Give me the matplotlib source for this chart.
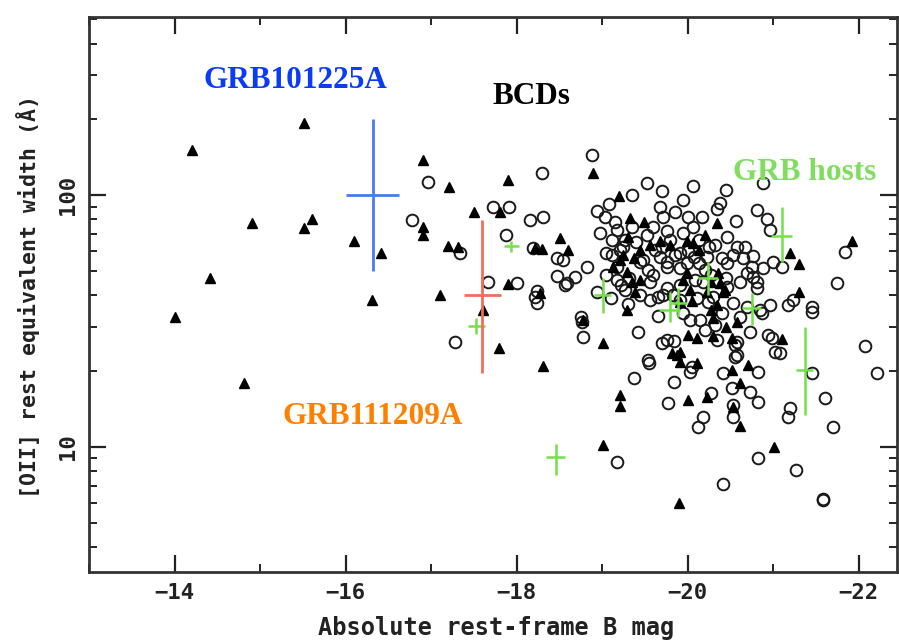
import numpy as np
import matplotlib
matplotlib.use("Agg")
import matplotlib.pyplot as plt
from matplotlib.ticker import FixedLocator, NullFormatter

# Comparison sample (open circles): absolute B mag, [OII] EW (A)
circ_mag = [-16.97, -16.78, -17.34, -17.28, -17.73, -17.91, -17.88, -18.30, -18.16, -18.31,
            -18.19, -18.47, -18.47, -17.67, -18.01, -18.24, -18.24, -18.88, -19.53, -19.70,
            -20.06, -20.45, -20.88, -19.95, -19.35, -19.08, -18.94, -19.04, -19.68, -19.71,
            -19.85, -20.00, -20.17, -20.34, -20.38, -20.57, -20.81, -20.93, -20.96, -18.98,
            -19.18, -19.53, -19.60, -19.76, -19.95, -20.06, -20.46, -20.67, -20.76, -20.75,
            -20.81, -19.05, -19.21, -18.54, -18.59, -18.68, -18.82, -19.18, -19.54, -19.68,
            -19.76, -19.91, -19.99, -20.23, -20.46, -20.53, -20.69, -20.88, -18.94, -19.18,
            -19.56, -19.65, -19.76, -19.91, -20.03, -20.30, -20.53, -20.61, -20.87, -18.77,
            -19.42, -19.71, -20.11, -20.24, -21.00, -21.11, -21.84, -21.75, -20.85, -21.17,
            -21.23, -21.46, -21.46, -18.78, -19.70, -19.84, -19.55, -19.37, -19.84, -19.77,
            -20.05, -20.03, -20.18, -20.12, -20.28, -20.55, -20.55, -20.41, -20.52, -20.53,
            -20.53, -20.73, -20.82, -20.82, -20.94, -20.99, -21.08, -21.20, -21.17, -21.46,
            -21.61, -21.70, -22.07, -22.22, -19.18, -20.83, -21.27, -20.41, -21.58, -21.59,
            -18.22, -19.56, -20.65, -20.58, -18.75, -19.27, -19.44, -19.12, -19.62, -19.80,
            -20.14, -20.32, -20.09, -20.20, -19.91, -19.44, -19.27, -19.12, -19.76, -19.91,
            -20.14, -19.83, -20.46, -20.61, -20.76, -20.81, -20.96, -20.32, -20.69, -19.76,
            -20.34, -20.58, -20.73, -21.02, -20.58, -18.57, -19.54,
            -19.15, -19.25, -19.35, -19.40, -19.32, -19.22, -19.05, -19.48, -19.60, -19.70,
            -19.85, -20.00, -20.08, -20.18, -20.28, -20.40, -20.45, -20.25, -19.95, -20.15,
            -20.40, -20.20, -19.65, -19.30, -19.10]
circ_ew = [113, 79.5, 58.8, 26.0, 90, 90, 69.4, 122, 79.5, 82,
           61.6, 56.2, 47.7, 45.2, 44.7, 41.6, 37.2, 144, 112, 104,
           109, 105, 112, 96, 100, 92, 86.4, 82, 90, 82,
           86, 82, 82, 88, 93, 79, 87, 80, 72.6, 70.6,
           72.6, 69.4, 75, 72, 71, 74.6, 68, 62.2, 57.3, 51.8,
           45.2, 58.8, 60.5, 55.2, 44.7, 47.3, 51.8, 51.8, 50.4, 56.7,
           51.8, 58.8, 53.7, 56.7, 53.7, 57.8, 49, 51.3, 41.2, 46,
           45.2, 39.4, 42.7, 38.3, 31.9, 39.4, 37.2, 32.8, 34, 31.3,
           28.5, 40, 39, 37.6, 54.2, 51.8, 59.4, 44.7, 34.9, 36.6,
           38.3, 35.9, 34.3, 27.3, 25.8, 26.3, 21.5, 18.7, 18.1, 14.9,
           20.7, 19.8, 13.1, 12.0, 16.4, 25.4, 22.7, 19.6, 17.1, 14.6,
           13.1, 16.5, 19.8, 15.0, 27.8, 27.0, 23.6, 14.2, 13.1, 19.6,
           15.6, 12.0, 25.1, 19.6, 8.7, 9.0, 8.1, 7.1, 6.2, 6.15,
           39.4, 38.3, 56, 62, 32.9, 66.3, 54.2, 66.3, 60.5, 66.3,
           66.3, 63.3, 46, 50.4, 43.9, 40, 41.9, 57.8, 54.2, 51.3,
           53.7, 40, 43.1, 45.2, 47.3, 42.7, 36.6, 30.5, 35.9, 26.5,
           26.5, 26.0, 28.6, 23.8, 23.2, 43.9, 22.1,
           78, 62, 75, 65, 47, 44, 48, 55, 48, 62,
           58, 60, 57, 45, 48, 56, 47, 62, 34, 32,
           34, 29, 33, 37, 39]

# BCDs (filled triangles)
tri_mag = [-14.21, -15.51, -14.91, -15.51, -15.61, -16.10, -16.41, -14.41, -14.01, -16.31,
           -14.81, -16.91, -17.21, -17.90, -17.50, -17.81, -16.91, -16.91, -17.20, -17.31,
           -18.22, -18.30, -18.51, -18.60, -17.90, -18.28, -17.11, -17.61, -17.80, -18.89,
           -19.20, -19.33, -19.49, -19.30, -19.21, -19.13, -19.29, -19.39, -19.29, -19.99,
           -20.06, -20.34, -20.36, -20.38, -20.28, -20.44, -19.99, -19.95, -18.78, -20.00,
           -20.11, -20.30, -18.31, -19.01, -19.21, -19.21, -19.82, -19.91, -19.91, -20.11,
           -20.00, -20.23, -20.52, -20.61, -20.53, -20.61, -20.71, -21.11, -19.01, -21.01,
           -19.90, -21.92, -21.20, -21.30, -21.30, -19.44, -19.56, -19.37, -19.68, -19.80,
           -20.14, -20.20, -20.03, -19.44, -20.30, -20.34, -20.58, -19.91, -20.23, -20.41,
           -20.52, -19.88, -19.25, -19.35, -20.05, -20.28, -20.45]
tri_ew = [151, 193, 77.4, 74, 80, 66, 58.8, 46.8, 32.8, 38.3,
          17.9, 138, 108, 115, 86, 85.6, 74.6, 69.4, 62.7, 62.2,
          61.6, 61, 67.5, 60.5, 44.3, 40.8, 40, 34.9, 24.7, 122,
          99, 81, 78, 68, 55.2, 51.8, 49.4, 41.2, 34.9, 66,
          64.4, 77.4, 49, 44.7, 34.9, 41.9, 49, 46, 31.9, 27.9,
          27.0, 27.6, 21.0, 25.8, 16.0, 14.5, 23.6, 23.8, 21.8, 21.5,
          15.3, 15.8, 20.2, 17.9, 14.4, 12.1, 21.1, 26.8, 10.2, 10.0,
          6.0, 66, 58.8, 53.2, 41.2, 60.5, 63.3, 56.2, 66, 63.3,
          60.5, 69.4, 41.9, 46, 32.4, 36.6, 31.3, 37.6, 41.2, 41.2,
          27.1, 23.2, 58, 45, 38, 45, 30]

# GRB hosts (green crosses)
host_mag = [-17.53, -17.94, -18.46, -19.01, -19.79, -19.89, -20.24, -20.75, -21.10, -21.37]
host_mag_err = [0.10, 0.09, 0.11, 0.10, 0.12, 0.10, 0.12, 0.11, 0.12, 0.10]
host_ew = [30.2, 62.7, 9.1, 40.0, 35.0, 37.2, 47.0, 35.5, 69.0, 20.2]
host_ew_lo = [28.0, 59.5, 7.7, 34.0, 31.3, 32.8, 40.0, 30.5, 54.0, 13.4]
host_ew_hi = [32.5, 66.0, 10.3, 47.0, 41.2, 42.7, 54.0, 40.8, 90.0, 30.0]

# GRB101225A and GRB111209A
grb1_mag, grb1_mag_err, grb1_ew, grb1_lo, grb1_hi = -16.32, 0.31, 100, 50, 200
grb2_mag, grb2_mag_err, grb2_ew, grb2_lo, grb2_hi = -17.60, 0.22, 40, 19.6, 79.5

fig = plt.figure(figsize=(8.99, 6.43), dpi=100)
ax = fig.add_axes([89 / 899, 1 - 572 / 643, 808 / 899, 555 / 643])

ax.plot(circ_mag, circ_ew, "o", ms=8.4, mfc="none", mec="#1a1a1a", mew=1.4, ls="none")
ax.plot(tri_mag, tri_ew, "^", ms=6.8, color="black", ls="none")

hm = np.array(host_mag)
he = np.array(host_ew)
ax.errorbar(hm, he, xerr=host_mag_err,
            yerr=[he - np.array(host_ew_lo), np.array(host_ew_hi) - he],
            fmt="none", ecolor="#74e04a", elinewidth=1.8, capsize=0)
ax.errorbar([grb1_mag], [grb1_ew], xerr=[grb1_mag_err],
            yerr=[[grb1_ew - grb1_lo], [grb1_hi - grb1_ew]],
            fmt="none", ecolor="#4a7af2", elinewidth=2.0, capsize=0)
ax.errorbar([grb2_mag], [grb2_ew], xerr=[grb2_mag_err],
            yerr=[[grb2_ew - grb2_lo], [grb2_hi - grb2_ew]],
            fmt="none", ecolor="#f06e58", elinewidth=2.0, capsize=0)

# axes
ax.set_yscale("log")
ax.set_xlim(-13.0, -22.45)
ax.set_ylim(3.18, 510)
ax.xaxis.set_major_locator(FixedLocator([-14, -16, -18, -20, -22]))
ax.xaxis.set_minor_locator(FixedLocator([-13, -15, -17, -19, -21]))
ax.yaxis.set_major_locator(FixedLocator([10, 100]))
ax.yaxis.set_minor_locator(FixedLocator([4, 5, 6, 7, 8, 9, 20, 30, 40, 50, 60, 70, 80, 90, 200, 300, 400, 500]))
ax.yaxis.set_minor_formatter(NullFormatter())
ax.set_yticklabels(["10", "100"], rotation=90, va="center")

mono = "DejaVu Sans Mono"
ax.tick_params(which="both", direction="in", top=True, right=True, colors="#222222")
ax.tick_params(which="major", length=12, width=1.6, labelsize=16, pad=8)
ax.tick_params(which="minor", length=6, width=1.4)
for lab in ax.get_xticklabels() + ax.get_yticklabels():
    lab.set_family(mono)
    lab.set_weight("bold")
for s in ax.spines.values():
    s.set_linewidth(2.0)
    s.set_color("#333333")

ax.set_xlabel("Absolute rest-frame B mag", family=mono, weight="bold", fontsize=17, color="#222222")
ax.xaxis.set_label_coords(0.504, -0.101)
ax.xaxis.label.set_va("center")
ax.set_ylabel("[OII] rest equivalent width (Å)", family=mono, weight="bold", fontsize=15.5,
              color="#222222")
ax.yaxis.set_label_coords(-0.0755, 0.497)
ax.yaxis.label.set_va("center")

serif = "Liberation Serif"
ax.text(0.1423, 0.872, "GRB101225A", transform=ax.transAxes, family=serif, weight="bold",
        fontsize=22.5, color="#0a3cf5", ha="left", va="baseline")
ax.text(0.4988, 0.843, "BCDs", transform=ax.transAxes, family=serif, weight="bold",
        fontsize=22.5, color="black", ha="left", va="baseline")
ax.text(0.797, 0.706, "GRB hosts", transform=ax.transAxes, family=serif, weight="bold",
        fontsize=22.5, color="#80dd60", ha="left", va="baseline")
ax.text(0.2389, 0.2667, "GRB111209A", transform=ax.transAxes, family=serif, weight="bold",
        fontsize=22.5, color="#ff8000", ha="left", va="baseline")

fig.savefig("out.png", dpi=100)
